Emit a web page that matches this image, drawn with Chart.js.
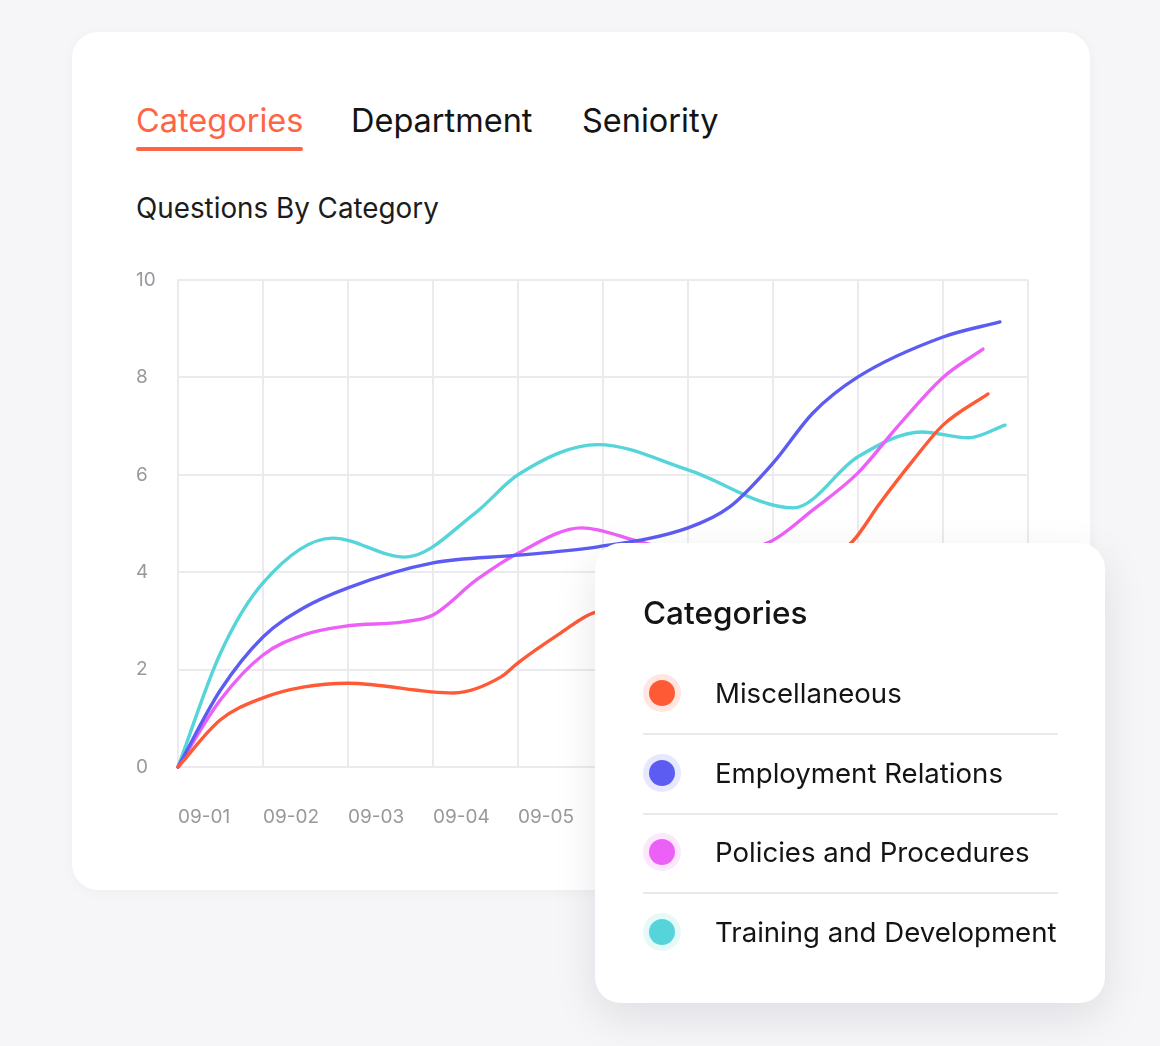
<!DOCTYPE html>
<html>
<head>
<meta charset="utf-8">
<script src="https://cdn.jsdelivr.net/npm/chart.js@4.4.1/dist/chart.umd.min.js"></script>
<style>
  html, body { margin: 0; padding: 0; }
  body { width: 1160px; height: 1046px; background: #f6f6f8; position: relative; overflow: hidden;
         font-family: Inter, "Noto Sans", sans-serif; color: #141414; }
  .card { position: absolute; left: 72px; top: 32px; width: 1018px; height: 858px; background: #fff;
          border-radius: 26px; box-shadow: 0 2px 14px rgba(30,30,60,0.035); }
  .tab { position: absolute; top: 101px; font-size: 32.5px; line-height: 40px; white-space: nowrap; }
  .tab.active { color: #ff6545; }
  .underline { position: absolute; left: 136px; top: 147px; width: 167px; height: 4px; border-radius: 2px; background: #ff6545; }
  .subtitle { position: absolute; left: 136px; top: 191px; font-size: 27.8px; line-height: 34px; color: #1c1c1c; white-space: nowrap; }
  #chart { position: absolute; left: 136px; top: 260px; }
  .pop { position: absolute; left: 595px; top: 543px; width: 510px; height: 460px; background: #fff;
         border-radius: 26px; box-shadow: 0 14px 44px rgba(20,20,50,0.10); }
  .pop h3 { position: absolute; left: 48px; top: 51px; margin: 0; font-size: 31.5px; line-height: 38px; font-weight: 500; white-space: nowrap; }
  .row { position: absolute; left: 48px; width: 415px; height: 79px; }
  .row .dot { position: absolute; left: 6px; top: 26px; width: 26px; height: 26px; border-radius: 50%; }
  .row .txt { position: absolute; left: 72px; top: 22px; font-size: 27.6px; line-height: 34px; white-space: nowrap; }
  .row.sep { border-bottom: 2px solid #e9e9ed; }
</style>
</head>
<body>
<div class="card"></div>
<div class="tab active" style="left:136px">Categories</div>
<div class="underline"></div>
<div class="tab" style="left:351px">Department</div>
<div class="tab" style="left:582px">Seniority</div>
<div class="subtitle">Questions By Category</div>
<canvas id="chart" width="896" height="567" style="width:896px;height:567px"></canvas>
<div class="pop">
  <h3>Categories</h3>
  <div id="legendRows"></div>
</div>
<script>
// x axis days (index -> label), gridline at every day
var dayLabels = ['09-01','09-02','09-03','09-04','09-05','09-06','09-07','09-08','09-09','09-10'];
var yTicks = [0, 2, 4, 6, 8, 10];

var seriesNames = ['Miscellaneous', 'Employment Relations', 'Policies and Procedures', 'Training and Development'];
var seriesColors = ['#ff5a36', '#5d5cf2', '#ec60f7', '#55d5d9'];

// sample positions (in days from 09-01) and values
var miscDays   = [0, 0.5, 1, 1.47, 2, 3.24, 3.8, 4, 4.5, 4.88, 6, 7, 7.93, 8.26, 8.65, 9, 9.53];
var miscValues = [0, 0.97, 1.42, 1.64, 1.72, 1.52, 1.85, 2.14, 2.75, 3.16, 3.4, 3.6, 4.62, 5.42, 6.3, 7.02, 7.66];

var empDays   = [0, 0.5, 1, 1.47, 2, 3, 4, 4.94, 6, 6.49, 7, 7.47, 8, 9, 9.67];
var empValues = [0, 1.58, 2.67, 3.26, 3.68, 4.19, 4.35, 4.52, 4.91, 5.34, 6.24, 7.27, 8.01, 8.83, 9.14];

var polDays   = [0, 0.5, 1, 1.47, 2, 2.65, 3, 3.51, 4, 4.75, 5.44, 6.1, 6.96, 7.47, 8, 8.46, 9, 9.47];
var polValues = [0, 1.38, 2.3, 2.71, 2.9, 2.98, 3.12, 3.84, 4.39, 4.91, 4.62, 4.35, 4.62, 5.28, 6.04, 6.98, 8.0, 8.58];

var trainDays   = [0, 0.5, 1, 1.82, 2.67, 3.5, 4, 4.94, 6, 7.24, 8, 8.75, 9.3, 9.73];
var trainValues = [0, 2.34, 3.78, 4.7, 4.31, 5.22, 6.0, 6.62, 6.1, 5.32, 6.37, 6.88, 6.76, 7.02];

function pairs(days, values) {
  return days.map(function(d, i) { return { x: d, y: values[i] }; });
}

var allDays = [miscDays, empDays, polDays, trainDays];
var allValues = [miscValues, empValues, polValues, trainValues];

var datasets = seriesNames.map(function(name, i) {
  return {
    label: name,
    data: pairs(allDays[i], allValues[i]),
    borderColor: seriesColors[i],
    backgroundColor: seriesColors[i],
    borderWidth: 3.4,
    pointRadius: 0,
    fill: false,
    cubicInterpolationMode: 'monotone',
    borderCapStyle: 'round',
    clip: false
  };
});

var gridColor = '#ebebef';
var tickFont = { family: 'Inter', size: 19 };

new Chart(document.getElementById('chart'), {
  type: 'line',
  data: { datasets: datasets },
  options: {
    responsive: false,
    animation: false,
    layout: { padding: { top: 20, right: 4, left: 0, bottom: 0 } },
    plugins: { legend: { display: false }, tooltip: { enabled: false } },
    scales: {
      x: {
        type: 'linear',
        min: 0,
        max: dayLabels.length,
        afterBuildTicks: function(s) {
          s.ticks = dayLabels.concat(['']).map(function(l, i) { return { value: i }; });
        },
        afterFit: function(s) { s.height = 60; s.paddingLeft = 0; s.paddingRight = 0; },
        ticks: {
          align: 'start',
          padding: 39,
          color: '#98989e',
          font: tickFont,
          maxRotation: 0,
          autoSkip: false,
          callback: function(v) { return dayLabels[v] || ''; }
        },
        grid: { color: gridColor, lineWidth: 2, drawTicks: false },
        border: { color: gridColor, width: 2 }
      },
      y: {
        min: yTicks[0],
        max: yTicks[yTicks.length - 1],
        afterBuildTicks: function(s) {
          s.ticks = yTicks.map(function(v) { return { value: v }; });
        },
        afterFit: function(s) { s.width = 42; s.paddingTop = 0; s.paddingBottom = 0; },
        ticks: { crossAlign: 'far', padding: 20, color: '#98989e', font: tickFont },
        grid: { color: gridColor, lineWidth: 2, drawTicks: false },
        border: { color: gridColor, width: 2 }
      }
    }
  }
});

// legend card rows
var rows = document.getElementById('legendRows');
seriesNames.forEach(function(name, i) {
  var row = document.createElement('div');
  row.className = 'row' + (i < seriesNames.length - 1 ? ' sep' : '');
  row.style.top = (111 + i * 79.5) + 'px';
  var dot = document.createElement('div');
  dot.className = 'dot';
  dot.style.background = seriesColors[i];
  dot.style.boxShadow = '0 0 0 6px ' + seriesColors[i] + '26';
  var txt = document.createElement('div');
  txt.className = 'txt';
  txt.textContent = name;
  row.appendChild(dot);
  row.appendChild(txt);
  rows.appendChild(row);
});
</script>
</body>
</html>
